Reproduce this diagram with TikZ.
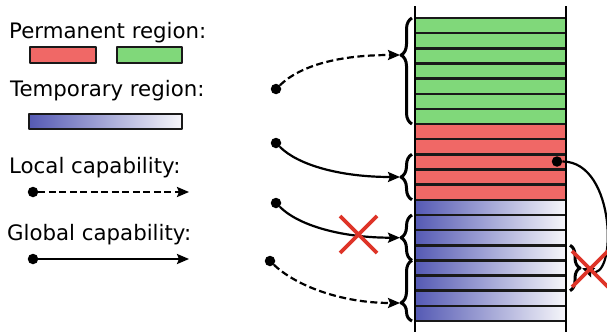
\documentclass[tikz,border=0pt]{standalone}
\usepackage{fontspec}
\setmainfont{DejaVu Sans}
\usetikzlibrary{arrows.meta,decorations.pathreplacing}
\definecolor{permred}{RGB}{240,104,102}
\definecolor{permgreen}{RGB}{128,216,122}
\definecolor{tempblue}{RGB}{85,90,180}
\definecolor{tempwhite}{RGB}{246,246,250}
\definecolor{crossred}{RGB}{222,52,40}
\tikzset{
  dot/.style={circle,fill=black,inner sep=0pt,minimum size=10.5pt},
  globalcap/.style={line width=2.2pt,-{Stealth[length=12pt,width=10pt,inset=2pt]}},
  localcap/.style={globalcap,dash pattern=on 7pt off 3.5pt},
  row/.style={draw=black!90,line width=2.5pt},
  legendbox/.style={draw=black!90,line width=1.8pt},
  lbrace/.style={decorate,decoration={brace,mirror,amplitude=11pt},line width=3pt},
  rbrace/.style={decorate,decoration={brace,amplitude=10pt},line width=3pt},
  cross/.style={crossred,line width=3.8pt},
  legendtext/.style={anchor=base west,inner sep=0pt}
}
\begin{document}
\begin{tikzpicture}[x=1pt,y=-1pt,font=\fontsize{21.3}{25}\selectfont,line join=round]
	\useasboundingbox (0,0) rectangle (607,332);
	% legend
	\node[legendtext] (perm) at (9,38.5) {Permanent region:};
	\draw[legendbox,fill=permred] (30,47) rectangle (96,63);
	\draw[legendbox,fill=permgreen] (117,47) rectangle (182,63);
	\node[legendtext] (temp) at (10,96) {Temporary region:};
	\draw[legendbox,left color=tempblue,right color=tempwhite] (29,114) rectangle (182,129);
	\node[legendtext] (loc) at (9,173.5) {Local capability:};
	\node[dot] (ldot) at (33,192) {};
	\coordinate (lend) at (189,192);
	\draw[localcap] (ldot) -- (lend);
	\node[legendtext] (glob) at (7,240.5) {Global capability:};
	\node[dot] (gdot) at (33,259) {};
	\coordinate (gend) at (189,259);
	\draw[globalcap] (gdot) -- (gend);
	% memory rows
	\foreach \i in {0,...,6} \draw[row,fill=permgreen] (415,18+15.15*\i) rectangle +(151,15.15);
	\foreach \i in {7,...,11} \draw[row,fill=permred] (415,18+15.15*\i) rectangle +(151,15.15);
	\foreach \i in {12,...,19} \draw[row,left color=tempblue,right color=tempwhite] (415,18+15.15*\i) rectangle +(151,15.15);
	\draw[line width=2.2pt] (415,6)--(415,332) (566,6)--(566,332);
	% braces
	\draw[lbrace,decoration={aspect=0.35}] (412,18)--(412,124);
	\draw[lbrace] (412,154.3)--(412,199.8);
	\draw[lbrace] (412,215)--(412,260.4);
	\draw[lbrace,decoration={aspect=0.7}] (412,260.4)--(412,321);
	\draw[rbrace] (570,245.3)--(570,290.7);
	\coordinate (b1) at (400,55);
	\coordinate (b2) at (400,177);
	\coordinate (b3) at (400,237.7);
	\coordinate (b4) at (400,303);
	\coordinate (b5) at (582,268);
	% capabilities
	\node[dot] (c1) at (276,89) {};
	\node[dot] (c2) at (276,143) {};
	\node[dot] (c3) at (276,203) {};
	\node[dot] (c4) at (270,261) {};
	\node[dot] (c5) at (557,161.5) {};
	\draw[localcap] (c1) .. controls +(25,-24) and +(-60,0) .. (b1);
	\draw[globalcap] (c2) .. controls +(22,22) and +(-60,0) .. (b2);
	\draw[globalcap] (c3) .. controls +(22,22) and +(-60,0) .. (b3);
	\draw[localcap] (c4) .. controls +(25,24) and +(-60,0) .. (b4);
	\draw[globalcap] (c5) .. controls +(60,0) and +(35,15) .. (b5);
	% invalid
	\draw[cross] (340,216)--(377,253) (340,253)--(377,216);
	\draw[cross] (572,251)--(608,287) (572,287)--(608,251);
\end{tikzpicture}
\end{document}
